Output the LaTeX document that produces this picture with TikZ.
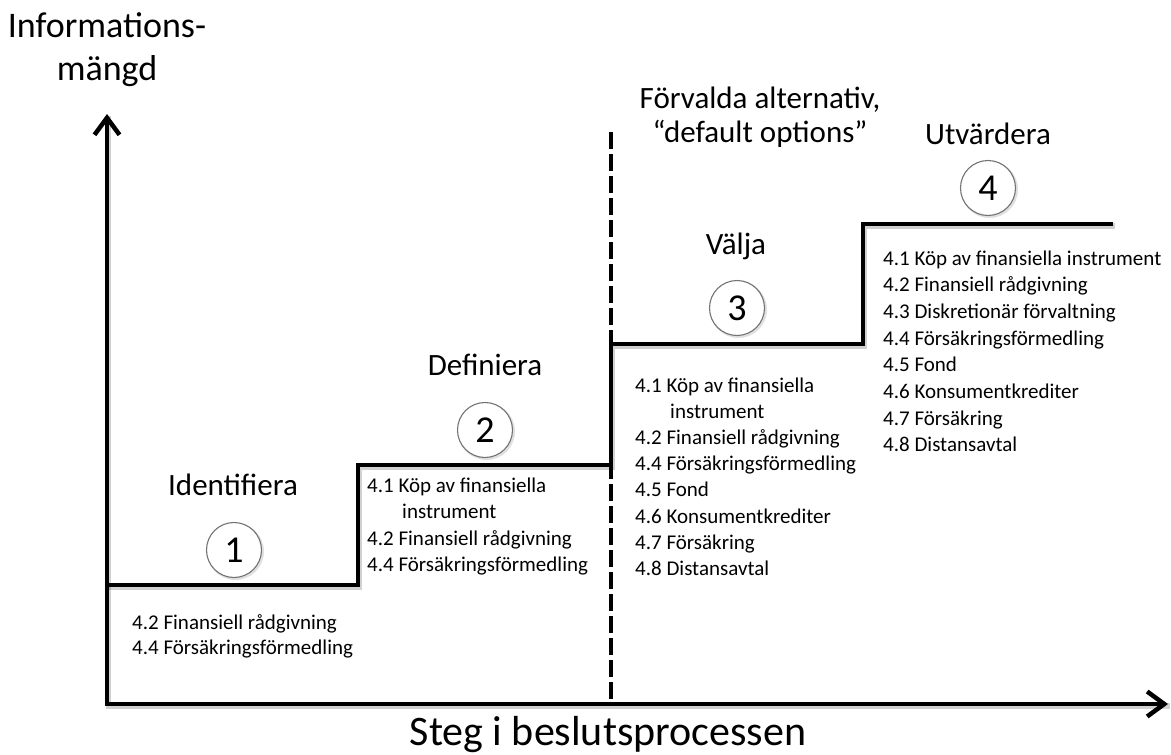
\documentclass[tikz,border=0pt]{standalone}
\usepackage{fontspec}
\setmainfont{Carlito}
\usetikzlibrary{arrows.meta}
\begin{document}
\begin{tikzpicture}[x=1pt,y=-1pt,
  thickline/.style={line width=4.5pt, line join=miter, line cap=butt},
  shadowline/.style={line width=5.5pt, draw=black, opacity=0.18, line join=miter},
  bigtxt/.style={font=\fontsize{31}{34}\selectfont, inner sep=0pt, anchor=base},
  axistxt/.style={font=\fontsize{36}{43}\selectfont, inner sep=0pt, anchor=base},
  xaxistxt/.style={font=\fontsize{42}{48}\selectfont, inner sep=0pt, anchor=base},
  smalltxt/.style={font=\fontsize{21}{26}\selectfont, inner sep=0pt, anchor=base west},
  numcircle/.style={circle, draw=black!55, line width=1.1pt, fill=white, minimum size=55pt, inner sep=0pt, font=\fontsize{38}{40}\selectfont},
  circshadow/.style={circle, fill=black, opacity=0.12, minimum size=57pt, inner sep=0pt}
  ]
\useasboundingbox (0,0) rectangle (1171,755);
\fill[white] (0,0) rectangle (1171,755);

% coordinates
\coordinate (O) at (107,704);
\coordinate (ytip) at (107,114);
\coordinate (xtip) at (1168,704);
\coordinate (dtop) at (611,132);
\coordinate (dbot) at (611,704);
\coordinate (s0) at (107,585);
\coordinate (s1) at (358,585);
\coordinate (s2) at (358,465);
\coordinate (s3) at (611,465);
\coordinate (s4) at (611,344);
\coordinate (s5) at (863,344);
\coordinate (s6) at (863,224);
\coordinate (s7) at (1113,224);

% shadows
\draw[shadowline] ([shift={(1.5,2)}]s0) -- ([shift={(1.5,2)}]s1) -- ([shift={(1.5,2)}]s2) -- ([shift={(1.5,2)}]s3) -- ([shift={(1.5,2)}]s4) -- ([shift={(1.5,2)}]s5) -- ([shift={(1.5,2)}]s6) -- ([shift={(1.5,2)}]s7);
\draw[shadowline] ([shift={(1.5,2)}]ytip) -- ([shift={(1.5,2)}]O) -- ([shift={(1.5,2)}]xtip);

% axes
\draw[thickline, {Straight Barb[length=17pt,width=25pt]}-{Straight Barb[length=17pt,width=25pt]}] (ytip) -- (O) -- (xtip);

% dashed divider
\draw[line width=4.5pt, dash pattern=on 17pt off 5pt] (dtop) -- (dbot);

% staircase
\draw[thickline] (s0) -- (s1) -- (s2) -- (s3) -- (s4) -- (s5) -- (s6) -- (s7);

% axis labels
\node[axistxt] (ylab1) at (107,37) {Informations-};
\node[axistxt] (ylab2) at (107,80) {mängd};
\node[xaxistxt] (xlab) at (608,745) {Steg i beslutsprocessen};

% default options label
\node[bigtxt] (def1) at (760,108) {Förvalda alternativ,};
\node[bigtxt] (def2) at (760,142) {“default options”};

% step titles
\node[bigtxt] (t1) at (233,495) {Identifiera};
\node[bigtxt] (t2) at (485,375) {Definiera};
\node[bigtxt] (t3) at (736,254) {Välja};
\node[bigtxt] (t4) at (988,144) {Utvärdera};

% number circles
\node[circshadow] (c1s) at (235.5,551.5) {};
\node[numcircle] (c1) at (234,550) {1};
\node[circshadow] (c2s) at (486.5,431.5) {};
\node[numcircle] (c2) at (485,430) {2};
\node[circshadow] (c3s) at (738.5,309.5) {};
\node[numcircle] (c3) at (737,308) {3};
\node[circshadow] (c4s) at (989.5,189.5) {};
\node[numcircle] (c4) at (988,188) {4};

% text blocks
\foreach \t [count=\i] in {{4.2 Finansiell rådgivning},{4.4 Försäkringsförmedling}}
  \node[smalltxt] (a\i) at ({132},{629+(\i-1)*25.5}) {\t};

\foreach \t [count=\i] in {{4.1 Köp av finansiella},{\hspace*{35pt}instrument},{4.2 Finansiell rådgivning},{4.4 Försäkringsförmedling}}
  \node[smalltxt] (b\i) at ({367},{492+(\i-1)*26.5}) {\t};

\foreach \t [count=\i] in {{4.1 Köp av finansiella},{\hspace*{35pt}instrument},{4.2 Finansiell rådgivning},{4.4 Försäkringsförmedling},{4.5 Fond},{4.6 Konsumentkrediter},{4.7 Försäkring},{4.8 Distansavtal}}
  \node[smalltxt] (c\i) at ({635},{392+(\i-1)*26.2}) {\t};

\foreach \t [count=\i] in {{4.1 Köp av finansiella instrument},{4.2 Finansiell rådgivning},{4.3 Diskretionär förvaltning},{4.4 Försäkringsförmedling},{4.5 Fond},{4.6 Konsumentkrediter},{4.7 Försäkring},{4.8 Distansavtal}}
  \node[smalltxt] (d\i) at ({883},{265+(\i-1)*26.7}) {\t};
\end{tikzpicture}
\end{document}
